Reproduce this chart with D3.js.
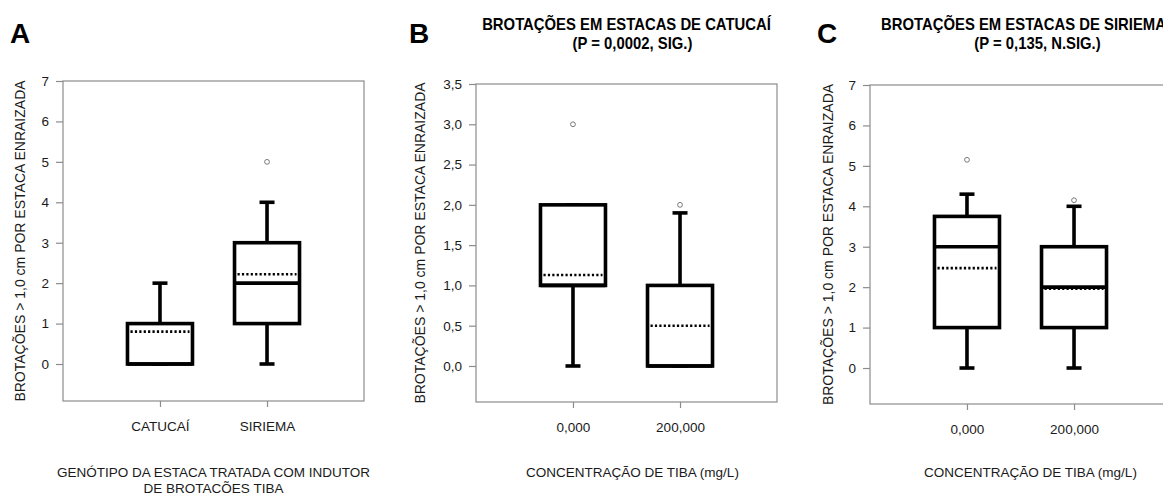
<!DOCTYPE html>
<html>
<head>
<meta charset="utf-8">
<script src="https://cdnjs.cloudflare.com/ajax/libs/d3/7.8.5/d3.min.js"></script>
<style>
  body { margin: 0; background: #fff; }
  svg { display: block; font-family: "Liberation Sans", Arial, sans-serif; }
  .frame { fill: none; stroke: #8c8c8c; stroke-width: 1.2; }
  .axis path { display: none; }
  .axis line { stroke: #8c8c8c; stroke-width: 1.2; }
  .axis text { fill: #1a1a1a; font-size: 13.5px; }
  .box { fill: none; stroke: #000; stroke-width: 3.6; }
  .mean { stroke: #000; stroke-width: 2.6; stroke-dasharray: 2.2 2.2; }
  .out { fill: none; stroke: #7a7a7a; stroke-width: 1; }
</style>
</head>
<body>
<div id="svg_container"></div>
<script>

/* -----------------------
data
------------------------- */

var panelLetters = ["A", "B", "C"];
var yTitle = "BROTAÇÕES > 1,0 cm POR ESTACA ENRAIZADA";

// A - genotipo
var aCats = ["CATUCAÍ", "SIRIEMA"];
var aQ1 = [0, 1];
var aMedian = [0, 2];
var aQ3 = [1, 3];
var aMean = [0.8, 2.22];
var aLow = [0, 0];
var aHigh = [2, 4];
var aOutliers = [[], [5]];
var aTicks = [0, 1, 2, 3, 4, 5, 6, 7];
var aTitle = [];
var aXTitle = ["GENÓTIPO DA ESTACA TRATADA COM INDUTOR", "DE BROTAÇÕES TIBA"];

// B - catucai
var bCats = ["0,000", "200,000"];
var bQ1 = [1, 0];
var bMedian = [1, 0];
var bQ3 = [2, 1];
var bMean = [1.13, 0.5];
var bLow = [0, 0];
var bHigh = [2, 1.9];
var bOutliers = [[3], [2]];
var bTicks = [0, 0.5, 1, 1.5, 2, 2.5, 3, 3.5];
var bTitle = ["BROTAÇÕES EM ESTACAS DE CATUCAÍ", "(P = 0,0002, SIG.)"];
var bXTitle = ["CONCENTRAÇÃO DE TIBA (mg/L)"];

// C - siriema
var cCats = ["0,000", "200,000"];
var cQ1 = [1, 1];
var cMedian = [3, 2];
var cQ3 = [3.75, 3];
var cMean = [2.47, 1.96];
var cLow = [0, 0];
var cHigh = [4.3, 4];
var cOutliers = [[5.15], [4.15]];
var cTicks = [0, 1, 2, 3, 4, 5, 6, 7];
var cTitle = ["BROTAÇÕES EM ESTACAS DE SIRIEMA", "(P = 0,135, N.SIG.)"];
var cXTitle = ["CONCENTRAÇÃO DE TIBA (mg/L)"];

/* -----------------------
main variables
------------------------- */

var width = 1163;
var height = 493;
var frameW = 301;
var boxW = 65;
var capW = 15;

var svg = d3.select("#svg_container")
  .append("svg")
  .attr("width", width)
  .attr("height", height);

function makeRows(cats, q1, med, q3, mean, low, high, outs) {
  return cats.map(function (c, i) {
    return {cat: c, q1: q1[i], median: med[i], q3: q3[i], mean: mean[i],
            low: low[i], high: high[i], outliers: outs[i]};
  });
}

var panels = [
  {letter: panelLetters[0], rows: makeRows(aCats, aQ1, aMedian, aQ3, aMean, aLow, aHigh, aOutliers),
   cats: aCats, ticks: aTicks, dec: 0, title: aTitle, xTitle: aXTitle,
   left: 63, top: 81, bottom: 401, ymin: -0.915, ymax: 7,
   letterX: 10, yTitleX: 25, titleDx: [0, 0], xTitleDx: 0},
  {letter: panelLetters[1], rows: makeRows(bCats, bQ1, bMedian, bQ3, bMean, bLow, bHigh, bOutliers),
   cats: bCats, ticks: bTicks, dec: 1, title: bTitle, xTitle: bXTitle,
   left: 476, top: 84, bottom: 402, ymin: -0.447, ymax: 3.5,
   letterX: 409, yTitleX: 425, titleDx: [0, 6], xTitleDx: 6},
  {letter: panelLetters[2], rows: makeRows(cCats, cQ1, cMedian, cQ3, cMean, cLow, cHigh, cOutliers),
   cats: cCats, ticks: cTicks, dec: 0, title: cTitle, xTitle: cXTitle,
   left: 870, top: 85, bottom: 404, ymin: -0.89, ymax: 7,
   letterX: 817, yTitleX: 833, titleDx: [3, 17], xTitleDx: 10}
];

/* -----------------------
draw
------------------------- */

panels.forEach(function (p) {

  var right = p.left + frameW;
  var cx = (p.left + right) / 2;

  var x = d3.scalePoint().domain(p.cats).range([p.left, right]).padding(0.906);
  var y = d3.scaleLinear().domain([p.ymin, p.ymax]).range([p.bottom, p.top]);

  var g = svg.append("g");

  g.append("text")
    .attr("x", p.letterX).attr("y", 43)
    .style("font-size", "28px").style("font-weight", "bold")
    .text(p.letter);

  // panel title, a bit taller than wide like the original
  p.title.forEach(function (t, i) {
    g.append("text")
      .attr("transform", "translate(" + (cx + p.titleDx[i]) + "," + (30 + i * 19) + ") scale(0.94,1)")
      .attr("text-anchor", "middle")
      .style("font-size", "15.8px").style("font-weight", "bold")
      .text(t);
  });

  g.append("rect").attr("class", "frame")
    .attr("x", p.left).attr("y", p.top)
    .attr("width", frameW).attr("height", p.bottom - p.top);

  var fmt = function (d) { return d3.format("." + p.dec + "f")(d).replace(".", ","); };

  g.append("g").attr("class", "axis")
    .attr("transform", "translate(" + p.left + ",0)")
    .call(d3.axisLeft(y).tickValues(p.ticks).tickSize(7).tickPadding(7).tickFormat(fmt));

  g.append("g").attr("class", "axis")
    .attr("transform", "translate(0," + p.bottom + ")")
    .call(d3.axisBottom(x).tickSize(6).tickPadding(14));

  g.append("text")
    .attr("transform", "translate(" + p.yTitleX + "," + ((p.top + p.bottom) / 2) + ") rotate(-90)")
    .attr("text-anchor", "middle")
    .style("font-size", "14px").style("fill", "#1a1a1a")
    .text(yTitle);

  p.xTitle.forEach(function (t, i) {
    g.append("text")
      .attr("x", cx + p.xTitleDx).attr("y", 477 + i * 16)
      .attr("text-anchor", "middle")
      .style("font-size", "13.5px").style("fill", "#1a1a1a")
      .text(t);
  });

  var box = g.selectAll(".bx").data(p.rows).enter().append("g").attr("class", "bx");

  // whiskers
  box.append("line").attr("class", "box")
    .attr("x1", function (d) { return x(d.cat); }).attr("x2", function (d) { return x(d.cat); })
    .attr("y1", function (d) { return y(d.q3); }).attr("y2", function (d) { return y(d.high); });
  box.append("line").attr("class", "box")
    .attr("x1", function (d) { return x(d.cat); }).attr("x2", function (d) { return x(d.cat); })
    .attr("y1", function (d) { return y(d.q1); }).attr("y2", function (d) { return y(d.low); });
  box.append("line").attr("class", "box")
    .attr("x1", function (d) { return x(d.cat) - capW / 2; }).attr("x2", function (d) { return x(d.cat) + capW / 2; })
    .attr("y1", function (d) { return y(d.high); }).attr("y2", function (d) { return y(d.high); });
  box.append("line").attr("class", "box")
    .attr("x1", function (d) { return x(d.cat) - capW / 2; }).attr("x2", function (d) { return x(d.cat) + capW / 2; })
    .attr("y1", function (d) { return y(d.low); }).attr("y2", function (d) { return y(d.low); });

  // box
  box.append("rect").attr("class", "box")
    .style("fill", "#fff")
    .attr("x", function (d) { return x(d.cat) - boxW / 2; })
    .attr("width", boxW)
    .attr("y", function (d) { return y(d.q3); })
    .attr("height", function (d) { return y(d.q1) - y(d.q3); });

  box.append("line").attr("class", "box")
    .attr("x1", function (d) { return x(d.cat) - boxW / 2; }).attr("x2", function (d) { return x(d.cat) + boxW / 2; })
    .attr("y1", function (d) { return y(d.median); }).attr("y2", function (d) { return y(d.median); });

  box.append("line").attr("class", "mean")
    .attr("x1", function (d) { return x(d.cat) - boxW / 2 + 3; }).attr("x2", function (d) { return x(d.cat) + boxW / 2 - 3; })
    .attr("y1", function (d) { return y(d.mean); }).attr("y2", function (d) { return y(d.mean); });

  box.selectAll(".out").data(function (d) { return d.outliers.map(function (v) { return {cat: d.cat, v: v}; }); })
    .enter().append("circle").attr("class", "out")
    .attr("cx", function (d) { return x(d.cat); })
    .attr("cy", function (d) { return y(d.v); })
    .attr("r", 2.4);
});

</script>
</body>
</html>
